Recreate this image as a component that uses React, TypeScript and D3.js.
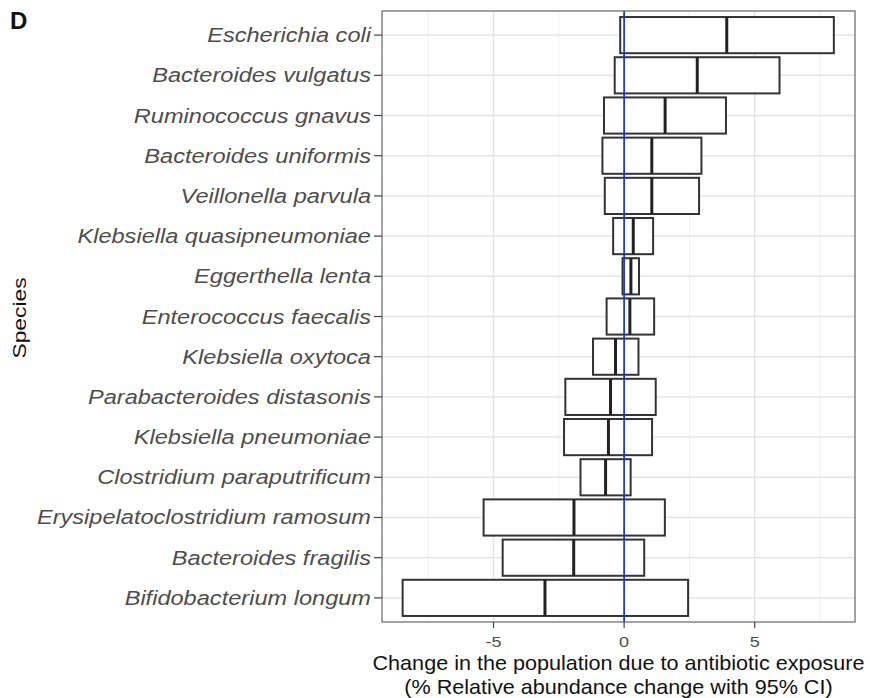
import React from 'react';
import * as d3 from 'd3';

const species = [
  'Escherichia coli',
  'Bacteroides vulgatus',
  'Ruminococcus gnavus',
  'Bacteroides uniformis',
  'Veillonella parvula',
  'Klebsiella quasipneumoniae',
  'Eggerthella lenta',
  'Enterococcus faecalis',
  'Klebsiella oxytoca',
  'Parabacteroides distasonis',
  'Klebsiella pneumoniae',
  'Clostridium paraputrificum',
  'Erysipelatoclostridium ramosum',
  'Bacteroides fragilis',
  'Bifidobacterium longum',
];
const lower = [-0.15, -0.36, -0.77, -0.83, -0.74, -0.42, -0.06, -0.67, -1.19, -2.25, -2.3, -1.67, -5.38, -4.65, -8.48];
const median = [3.93, 2.8, 1.57, 1.06, 1.06, 0.35, 0.26, 0.22, -0.33, -0.52, -0.6, -0.71, -1.92, -1.93, -3.03];
const upper = [8.03, 5.95, 3.9, 2.96, 2.87, 1.11, 0.57, 1.15, 0.55, 1.21, 1.07, 0.25, 1.56, 0.77, 2.45];
const xTicks = [-5, 0, 5];
const xMinor = [-7.5, -2.5, 2.5, 7.5];

const W = 870;
const H = 698;
const panel = { left: 382, right: 855, top: 11, bottom: 622 };

export default function App() {
  const x = d3.scaleLinear().domain([-9.27, 8.84]).range([panel.left, panel.right]);
  const y = d3.scalePoint<string>().domain(species).range([panel.top, panel.bottom]).padding(0.6);
  const barH = y.step() * 0.9;
  const font = 'Liberation Sans, Arial, Helvetica, sans-serif';
  const midX = (panel.left + panel.right) / 2;

  return (
    <div style={{ position: 'absolute', left: 0, top: 0 }}>
      <svg width={W} height={H} style={{ display: 'block', background: '#fff' }} fontFamily={font}>
        <rect x={panel.left} y={panel.top} width={panel.right - panel.left} height={panel.bottom - panel.top} fill="#fff" />
        {/* grid */}
        {xMinor.map((t) => (
          <line key={'mn' + t} x1={x(t)} x2={x(t)} y1={panel.top} y2={panel.bottom} stroke="#efefef" strokeWidth={1} />
        ))}
        {xTicks.map((t) => (
          <line key={'mj' + t} x1={x(t)} x2={x(t)} y1={panel.top} y2={panel.bottom} stroke="#e4e4e4" strokeWidth={1.5} />
        ))}
        {species.map((s) => (
          <line key={'gy' + s} x1={panel.left} x2={panel.right} y1={y(s)} y2={y(s)} stroke="#e4e4e4" strokeWidth={1.5} />
        ))}
        {/* boxes */}
        {species.map((s, i) => {
          const cy = y(s) as number;
          return (
            <g key={s}>
              <rect
                x={x(lower[i])}
                y={cy - barH / 2}
                width={x(upper[i]) - x(lower[i])}
                height={barH}
                fill="#fff"
                stroke="#333"
                strokeWidth={2}
              />
              <line x1={x(median[i])} x2={x(median[i])} y1={cy - barH / 2} y2={cy + barH / 2} stroke="#222" strokeWidth={3} />
            </g>
          );
        })}
        {/* zero line */}
        <line x1={x(0)} x2={x(0)} y1={panel.top} y2={panel.bottom} stroke="#1f3bd6" strokeWidth={1.8} />
        {/* border */}
        <rect x={panel.left} y={panel.top} width={panel.right - panel.left} height={panel.bottom - panel.top} fill="none" stroke="#666" strokeWidth={1.2} />
        {/* y axis */}
        {species.map((s) => (
          <g key={'yl' + s}>
            <line x1={panel.left - 8} x2={panel.left} y1={y(s)} y2={y(s)} stroke="#444" strokeWidth={1.2} />
            <text
              transform={`translate(${panel.left - 11},${(y(s) as number) + 7}) scale(1.21,1)`}
              textAnchor="end"
              fontSize={19.5}
              fontStyle="italic"
              fill="#4d4d4d"
            >
              {s}
            </text>
          </g>
        ))}
        {/* x axis */}
        {xTicks.map((t) => (
          <g key={'xl' + t}>
            <line x1={x(t)} x2={x(t)} y1={panel.bottom} y2={panel.bottom + 6} stroke="#444" strokeWidth={1.2} />
            <text transform={`translate(${x(t)},647) scale(1.2,1)`} textAnchor="middle" fontSize={15} fill="#4d4d4d">
              {t === 0 ? '0' : t < 0 ? '-' + Math.abs(t) : String(t)}
            </text>
          </g>
        ))}
        <text transform={`translate(${midX},670) scale(1.08,1)`} textAnchor="middle" fontSize={20} fill="#111">
          Change in the population due to antibiotic exposure
        </text>
        <text transform={`translate(${midX},694) scale(1.08,1)`} textAnchor="middle" fontSize={20} fill="#111">
          (% Relative abundance change with 95% CI)
        </text>
        <text transform={`translate(26,318) rotate(-90) scale(1.2,1)`} textAnchor="middle" fontSize={19} fill="#111">
          Species
        </text>
        <text x={10} y={29} fontSize={24} fontWeight="bold" fill="#111">
          D
        </text>
      </svg>
    </div>
  );
}
